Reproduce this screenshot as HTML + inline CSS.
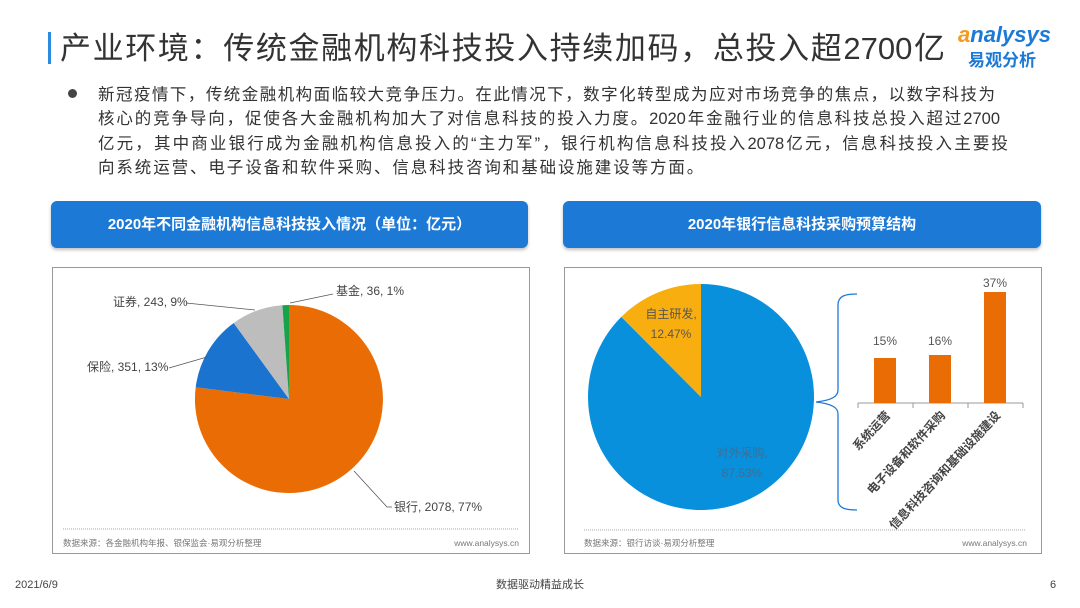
<!DOCTYPE html>
<html><head><meta charset="utf-8"><style>
body{margin:0;width:1080px;height:608px;background:#fff;font-family:"Liberation Sans","Noto Sans CJK SC",sans-serif;position:relative;overflow:hidden;color:#333}
.abs{position:absolute}
.hdr{position:absolute;top:201px;height:47px;background:#1c7ad6;border-radius:6px;color:#fff;font-size:15px;font-weight:bold;text-align:center;line-height:47px;box-shadow:0 2px 3px rgba(0,0,0,.25)}
.panel{position:absolute;top:267px;height:287px;border:1.5px solid #999;box-sizing:border-box}
.ln{width:900px;height:24.3px;text-align:justify;text-align-last:justify;white-space:nowrap;overflow:visible}
</style></head><body>
<div class="abs" style="left:48px;top:32px;width:3px;height:32px;background:#2a8be0"></div>
<div class="abs" style="left:60px;top:23px;width:885px;font-size:31px;color:#333;white-space:nowrap;text-align:justify;text-align-last:justify">产业环境：传统金融机构科技投入持续加码，总投入超2700亿</div>
<div class="abs" style="left:958px;top:22px;font-size:22px;font-style:italic;color:#1c7ad6;font-weight:bold"><span style="color:#f39a1e">a</span>nalysys</div>
<div class="abs" style="left:968px;top:46px;font-size:17px;color:#1c7ad6;font-weight:bold">易观分析</div>
<div class="abs" style="left:68px;top:89px;width:9px;height:9px;border-radius:50%;background:#444"></div>
<div class="abs" style="left:98px;top:83px;font-size:16.5px;line-height:24.3px;color:#333">
<div class="ln" style="width:897px">新冠疫情下，传统金融机构面临较大竞争压力。在此情况下，数字化转型成为应对市场竞争的焦点，以数字科技为</div>
<div class="ln" style="width:902px">核心的竞争导向，促使各大金融机构加大了对信息科技的投入力度。2020年金融行业的信息科技总投入超过2700</div>
<div class="ln" style="width:910px">亿元，其中商业银行成为金融机构信息投入的“主力军”，银行机构信息科技投入2078亿元，信息科技投入主要投</div>
<div style="white-space:nowrap;letter-spacing:1.9px">向系统运营、电子设备和软件采购、信息科技咨询和基础设施建设等方面。</div>
</div>
<div class="hdr" style="left:51px;width:477px">2020年不同金融机构信息科技投入情况（单位：亿元）</div>
<div class="hdr" style="left:563px;width:478px">2020年银行信息科技采购预算结构</div>
<div class="panel" style="left:52px;width:478px"></div>
<div class="panel" style="left:564px;width:478px"></div>
<svg class="abs" style="left:0;top:0" width="1080" height="608" font-family="Liberation Sans,Noto Sans CJK SC,sans-serif">
<path d="M289,399 L289,305 A94,94 0 1,1 195.7,387.2 Z" fill="#e96c05"/>
<path d="M289,399 L195.7,387.2 A94,94 0 0,1 233.7,323 Z" fill="#1a73cf"/>
<path d="M289,399 L233.7,323 A94,94 0 0,1 282.4,305.2 Z" fill="#bdbdbd"/>
<path d="M289,399 L282.4,305.2 A94,94 0 0,1 289,305 Z" fill="#17a34a"/>
<g stroke="#555" stroke-width="0.8" fill="none">
<polyline points="186,303 255,310"/><polyline points="169,368 207,357"/><polyline points="290,303 333,294"/><polyline points="354,471 387,507 392,507"/>
</g>
<g font-size="12" fill="#444">
<text x="113" y="306">证券, 243, 9%</text>
<text x="87" y="371">保险, 351, 13%</text>
<text x="336" y="295">基金, 36, 1%</text>
<text x="394" y="511">银行, 2078, 77%</text>
</g>
<line x1="63" y1="529" x2="518" y2="529" stroke="#aaa" stroke-dasharray="1,1"/>
<text x="63" y="546" font-size="8.5" fill="#777">数据来源：各金融机构年报、银保监会·易观分析整理</text>
<text x="519" y="546" font-size="8.5" fill="#777" text-anchor="end">www.analysys.cn</text>
<path d="M701,397 L701,284 A113,113 0 1,1 621.3,316.9 Z" fill="#0890dc"/>
<path d="M701,397 L621.3,316.9 A113,113 0 0,1 701,284 Z" fill="#f8ae0f"/>
<text x="671" y="318" font-size="12" fill="#555" text-anchor="middle">自主研发,</text>
<text x="671" y="338" font-size="12" fill="#555" text-anchor="middle">12.47%</text>
<text x="742" y="457" font-size="12" fill="#3d6e96" text-anchor="middle">对外采购,</text>
<text x="742" y="477" font-size="12" fill="#3d6e96" text-anchor="middle">87.53%</text>
<path d="M857,294 C845,294 838,296 838,305 L838,390 C838,396 833,400 816,402 C833,404 838,408 838,414 L838,500 C838,508 845,510 857,510" stroke="#1c7ad6" stroke-width="1.3" fill="none"/>
<line x1="858" y1="403" x2="1023" y2="403" stroke="#999"/>
<g stroke="#999"><line x1="858" y1="403" x2="858" y2="408"/><line x1="913" y1="403" x2="913" y2="408"/><line x1="968" y1="403" x2="968" y2="408"/><line x1="1023" y1="403" x2="1023" y2="408"/></g>
<rect x="874" y="358" width="22" height="45" fill="#e96c05"/>
<rect x="929" y="355" width="22" height="48" fill="#e96c05"/>
<rect x="984" y="292" width="22" height="111" fill="#e96c05"/>
<g font-size="12" fill="#555" text-anchor="middle">
<text x="885" y="345">15%</text><text x="940" y="345">16%</text><text x="995" y="287">37%</text>
</g>
<g font-size="12" fill="#444" font-weight="bold" text-anchor="end">
<text transform="translate(891,416) rotate(-47)">系统运营</text>
<text transform="translate(946,416) rotate(-47)">电子设备和软件采购</text>
<text transform="translate(1001,416) rotate(-47)">信息科技咨询和基础设施建设</text>
</g>
<line x1="584" y1="530" x2="1025" y2="530" stroke="#aaa" stroke-dasharray="1,1"/>
<text x="584" y="546" font-size="8.5" fill="#777">数据来源：银行访谈·易观分析整理</text>
<text x="1027" y="546" font-size="8.5" fill="#777" text-anchor="end">www.analysys.cn</text>
<text x="15" y="588" font-size="11" fill="#444">2021/6/9</text>
<text x="540" y="588" font-size="11" fill="#444" text-anchor="middle">数据驱动精益成长</text>
<text x="1050" y="588" font-size="11" fill="#444">6</text>
</svg>
</body></html>
